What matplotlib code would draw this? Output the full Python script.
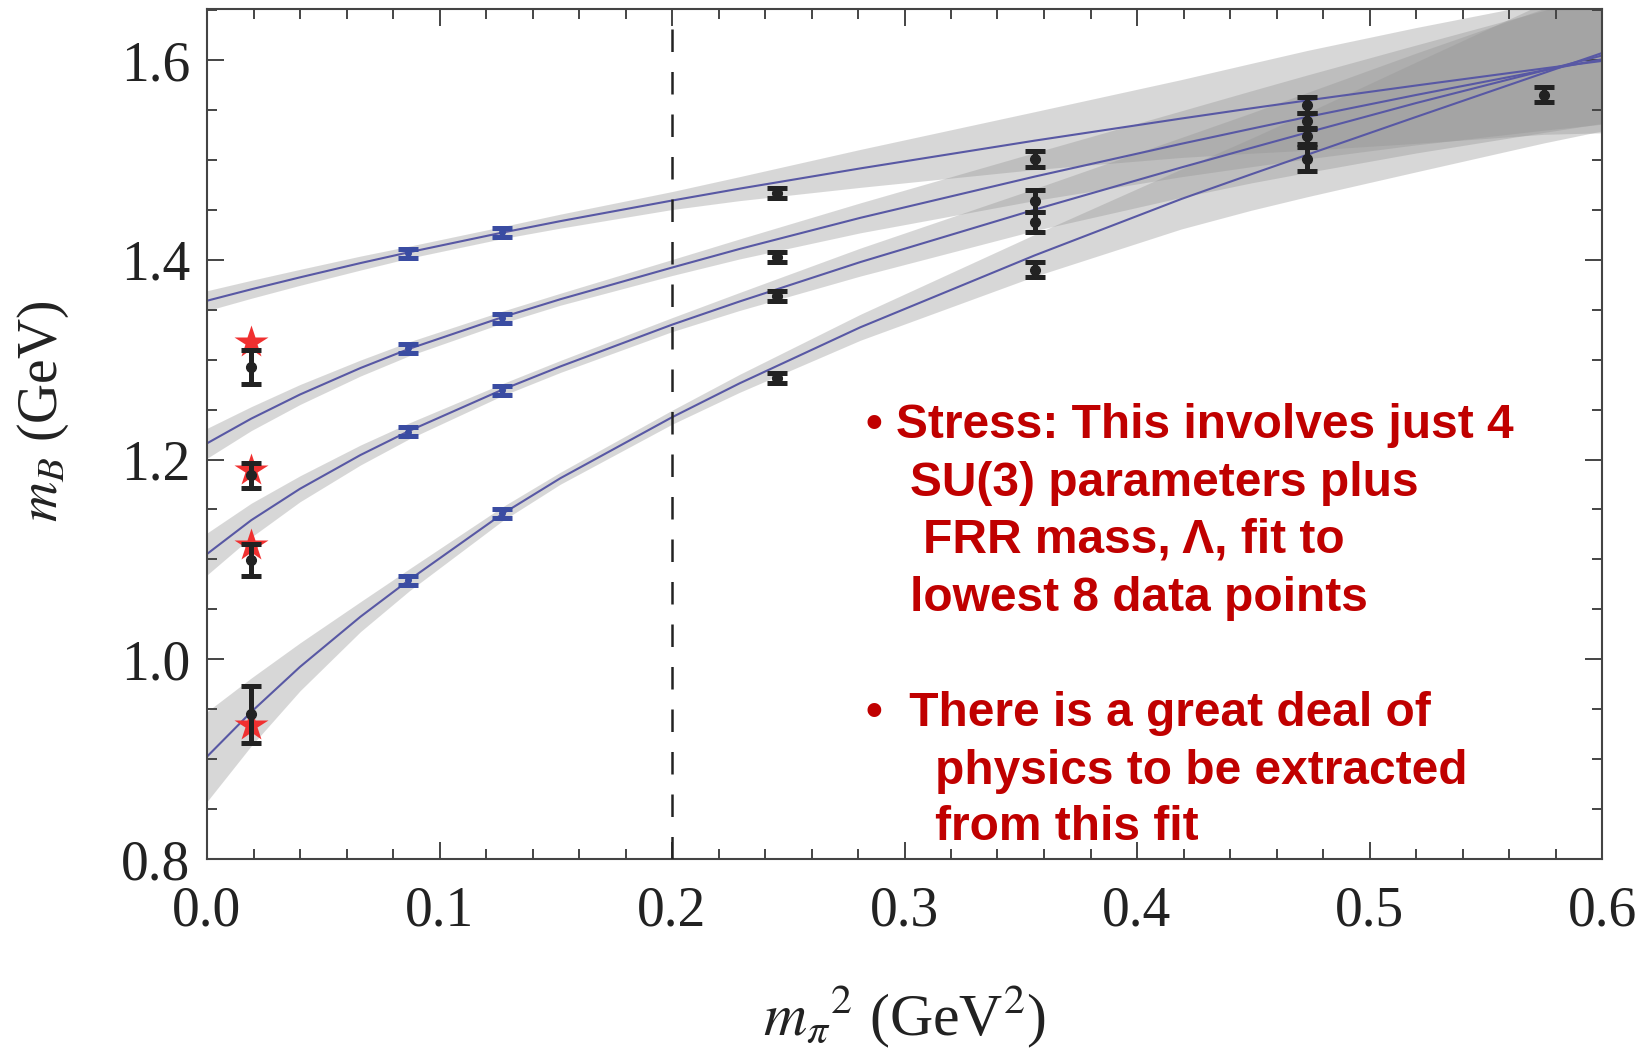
import matplotlib
matplotlib.use('Agg')
import numpy as np
import matplotlib.pyplot as plt
from matplotlib.ticker import MultipleLocator, FormatStrFormatter

curve_x = [0.0, 0.019, 0.04, 0.066, 0.087, 0.127, 0.152, 0.2, 0.229, 0.281,
           0.356, 0.419, 0.449, 0.473, 0.52, 0.575, 0.6]
curve1 = [1.359, 1.3704, 1.3824, 1.3967, 1.4076, 1.4272, 1.4387, 1.4593, 1.4712, 1.4915,
          1.5193, 1.5414, 1.5516, 1.5595, 1.5745, 1.5916, 1.5991]
curve2 = [1.2162, 1.2409, 1.2651, 1.2916, 1.3109, 1.3425, 1.3605, 1.3922, 1.4108, 1.442,
          1.4833, 1.5161, 1.5311, 1.5429, 1.565, 1.5897, 1.6007]
curve3 = [1.1054, 1.1392, 1.1707, 1.2045, 1.2287, 1.2699, 1.2932, 1.335, 1.3582, 1.3977,
          1.4502, 1.4924, 1.5119, 1.5273, 1.5569, 1.5895, 1.6045]
curve4 = [0.9025, 0.9472, 0.9924, 1.0426, 1.0795, 1.1455, 1.1813, 1.2423, 1.2762, 1.3324,
          1.4044, 1.4608, 1.4855, 1.505, 1.543, 1.587, 1.607]

# half widths of the grey error bands
band1 = [0.010, 0.009, 0.008, 0.007, 0.006, 0.006, 0.007, 0.009, 0.012, 0.019,
         0.029, 0.039, 0.045, 0.050, 0.058, 0.066, 0.072]
band2 = [0.015, 0.012, 0.010, 0.008, 0.007, 0.006, 0.006, 0.008, 0.010, 0.015,
         0.024, 0.033, 0.038, 0.042, 0.050, 0.060, 0.065]
band3 = [0.021, 0.017, 0.013, 0.010, 0.008, 0.006, 0.006, 0.007, 0.009, 0.014,
         0.021, 0.030, 0.035, 0.040, 0.050, 0.062, 0.068]
band4 = [0.045, 0.034, 0.024, 0.015, 0.011, 0.007, 0.006, 0.007, 0.009, 0.013,
         0.021, 0.030, 0.036, 0.042, 0.055, 0.070, 0.078]

# physical point: lattice extrapolation (black) and experiment (red stars)
phys_x = [0.019, 0.019, 0.019, 0.019]
phys_y = [1.2926, 1.184, 1.0997, 0.9447]
phys_err = [0.017, 0.013, 0.016, 0.029]
star_y = [1.318, 1.1895, 1.1144, 0.934]

# lattice points used in the fit (blue)
fit_x = [0.0866, 0.0866, 0.0866, 0.0866, 0.1269, 0.1269, 0.1269, 0.1269]
fit_y = [1.4065, 1.3114, 1.2279, 1.0793, 1.4275, 1.3414, 1.2696, 1.1461]
fit_err = [0.0045] * 8

# heavier lattice points not used in the fit (black)
other_x = [0.245, 0.245, 0.245, 0.245, 0.356, 0.356, 0.356, 0.356,
           0.473, 0.473, 0.473, 0.473, 0.575]
other_y = [1.4665, 1.403, 1.3637, 1.2813, 1.5009, 1.459, 1.438, 1.390,
           1.555, 1.539, 1.524, 1.5006, 1.565]
other_err = [0.005, 0.005, 0.005, 0.005, 0.008, 0.011, 0.010, 0.0077,
             0.008, 0.008, 0.008, 0.012, 0.0075]

notes = [
    ("\u2022 Stress: This involves just 4", 866, 438),
    ("SU(3) parameters plus", 910, 496),
    ("FRR mass, \u039b, fit to", 923, 553),
    ("lowest 8 data points", 910, 611),
    ("\u2022  There is a great deal of", 866, 726),
    ("physics to be extracted", 935, 784),
    ("from this fit", 935, 840),
]

plt.rcParams['font.family'] = ['Liberation Serif', 'DejaVu Serif']
plt.rcParams['mathtext.fontset'] = 'stix'

W, H = 1650, 1051
fig = plt.figure(figsize=(W / 100, H / 100), dpi=100)
ax = fig.add_axes([207 / W, 1 - 859 / H, 1395 / W, 850 / H])

for c, b in [(curve1, band1), (curve2, band2), (curve3, band3), (curve4, band4)]:
    c = np.array(c)
    b = np.array(b)
    ax.fill_between(curve_x, c - b, c + b, color='#959595', alpha=0.37, lw=0, zorder=1)
for c in [curve1, curve2, curve3, curve4]:
    ax.plot(curve_x, c, color='#5858a4', lw=1.5, zorder=2)

ax.axvline(0.2, color='#222222', lw=1.8, dashes=(9, 8), zorder=3)

ax.plot(phys_x, star_y, '*', color='#f03030', ms=25, mec='none', zorder=4)

bar_kw = dict(fmt='o', ms=7, elinewidth=3.6, capsize=7, capthick=3.6, zorder=5)
ax.errorbar(phys_x, phys_y, yerr=phys_err, color='#222222', **bar_kw)
ax.errorbar(other_x, other_y, yerr=other_err, color='#222222', **bar_kw)
ax.errorbar(fit_x, fit_y, yerr=fit_err, color='#3a4ca2',
            fmt='o', ms=4, elinewidth=3.6, capsize=7, capthick=3.6, zorder=5)

ax.set_xlim(0, 0.6)
ax.set_ylim(0.8, 1.6511)
ax.xaxis.set_major_locator(MultipleLocator(0.1))
ax.xaxis.set_minor_locator(MultipleLocator(0.02))
ax.yaxis.set_major_locator(MultipleLocator(0.2))
ax.yaxis.set_minor_locator(MultipleLocator(0.05))
ax.xaxis.set_major_formatter(FormatStrFormatter('%.1f'))
ax.yaxis.set_major_formatter(FormatStrFormatter('%.1f'))

ax.tick_params(which='both', direction='in', top=True, right=True,
               color='#444444', width=1.4)
ax.tick_params(which='major', length=12, labelsize=40, labelcolor='#222222')
ax.tick_params(which='minor', length=7)
ax.tick_params(axis='x', which='major', pad=19)
ax.tick_params(axis='y', which='major', pad=12)
for s in ax.spines.values():
    s.set_color('#444444')
    s.set_linewidth(1.5)

ax.set_xlabel(r'$m_{\pi}{}^{2}$ (GeV$^{2}$)', fontsize=43, color='#222222', va='baseline')
ax.xaxis.set_label_coords(0.5, -0.208)
ax.set_ylabel(r'$m_B$ (GeV)', fontsize=40, color='#222222', va='center')
ax.yaxis.set_label_coords(-0.117, 0.527)

for txt, px, py in notes:
    fig.text(px / W, 1 - py / H, txt, fontsize=34.5, fontweight='bold',
             family=['Liberation Sans', 'DejaVu Sans'], color='#c00000',
             ha='left', va='baseline')

fig.savefig('out.png', dpi=100)
